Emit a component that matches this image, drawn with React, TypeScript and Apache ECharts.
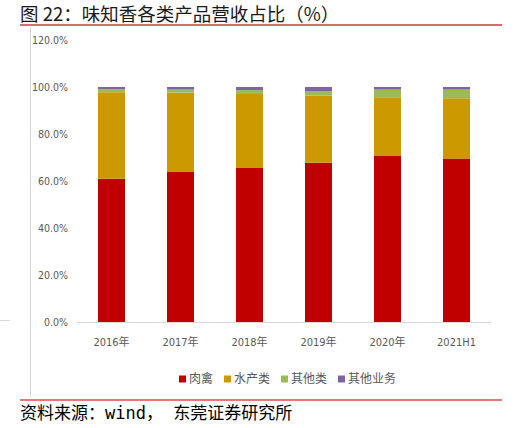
import { useEffect, useRef } from "react";
import * as echarts from "echarts";

const categories = ["2016年", "2017年", "2018年", "2019年", "2020年", "2021H1"];
const seriesNames = ["肉禽", "水产类", "其他类", "其他业务"];
const meat = [61.0, 63.8, 65.5, 67.8, 70.8, 69.6];
const aquatic = [36.8, 33.8, 31.5, 28.5, 24.8, 25.6];
const otherCat = [1.3, 1.3, 1.7, 2.0, 3.3, 3.7];
const otherBiz = [0.9, 1.1, 1.3, 1.7, 1.1, 1.1];
const colors = ["#C00000", "#CC9900", "#9BBB59", "#8064A2"];

const title = "图 22：味知香各类产品营收占比（%）";
const source = "资料来源：wind， 东莞证券研究所";

const axisFont = "'DejaVu Sans Condensed', 'Liberation Sans Narrow', 'Noto Sans CJK SC', sans-serif";

export default function App() {
  const ref = useRef<HTMLDivElement | null>(null);

  useEffect(() => {
    if (!ref.current) return;
    const chart = echarts.init(ref.current, null, { renderer: "svg" });
    const data = [meat, aquatic, otherCat, otherBiz];

    chart.setOption({
      animation: false,
      backgroundColor: "#ffffff",
      color: colors,
      grid: { left: 77, right: 31, top: 40, bottom: 106 },
      legend: {
        left: 174,
        top: 368,
        itemWidth: 7,
        itemHeight: 7,
        itemGap: 11,
        icon: "rect",
        textStyle: { color: "#595959", fontSize: 12, fontFamily: axisFont, padding: [0, 0, 0, -2] },
        data: seriesNames,
      },
      xAxis: {
        type: "category",
        data: categories,
        axisLine: { lineStyle: { color: "#D9D9D9", width: 1 } },
        axisTick: { show: false },
        axisLabel: { color: "#595959", fontSize: 11, fontFamily: axisFont, margin: 15 },
      },
      yAxis: {
        type: "value",
        min: 0,
        max: 120,
        interval: 20,
        axisLine: { show: false },
        axisTick: { show: false },
        splitLine: { show: false },
        axisLabel: {
          color: "#595959",
          fontSize: 10.5,
          fontFamily: axisFont,
          margin: 9,
          formatter: (v: number) => `${v.toFixed(1)}%`,
        },
      },
      series: seriesNames.map((name, i) => ({
        name,
        type: "bar",
        stack: "total",
        barWidth: 27,
        data: data[i],
      })),
      graphic: [
        {
          type: "text",
          left: 20,
          top: 4,
          style: {
            text: title,
            fontSize: 18.5,
            fill: "#1a1a1a",
            fontFamily: "'Noto Sans CJK SC', sans-serif",
          },
        },
        {
          type: "line",
          shape: { x1: 20, y1: 25, x2: 502, y2: 25 },
          style: { stroke: "#C83C3C", lineWidth: 1.5 },
        },
        {
          type: "line",
          shape: { x1: 30.5, y1: 27, x2: 30.5, y2: 397 },
          style: { stroke: "#D9D9D9", lineWidth: 1 },
        },
        {
          type: "line",
          shape: { x1: 0, y1: 320.5, x2: 10, y2: 320.5 },
          style: { stroke: "#D9D9D9", lineWidth: 1 },
        },
        {
          type: "line",
          shape: { x1: 20, y1: 400, x2: 502, y2: 400 },
          style: { stroke: "#E87878", lineWidth: 2 },
        },
        {
          type: "text",
          left: 20,
          top: 404,
          style: {
            text: source,
            fontSize: 17,
            fill: "#000000",
            fontFamily: "'DejaVu Sans Mono', 'Noto Sans CJK SC', monospace",
          },
        },
      ],
    });

    return () => chart.dispose();
  }, []);

  return <div ref={ref} style={{ position: "absolute", left: 0, top: 0, width: 522, height: 428 }} />;
}
